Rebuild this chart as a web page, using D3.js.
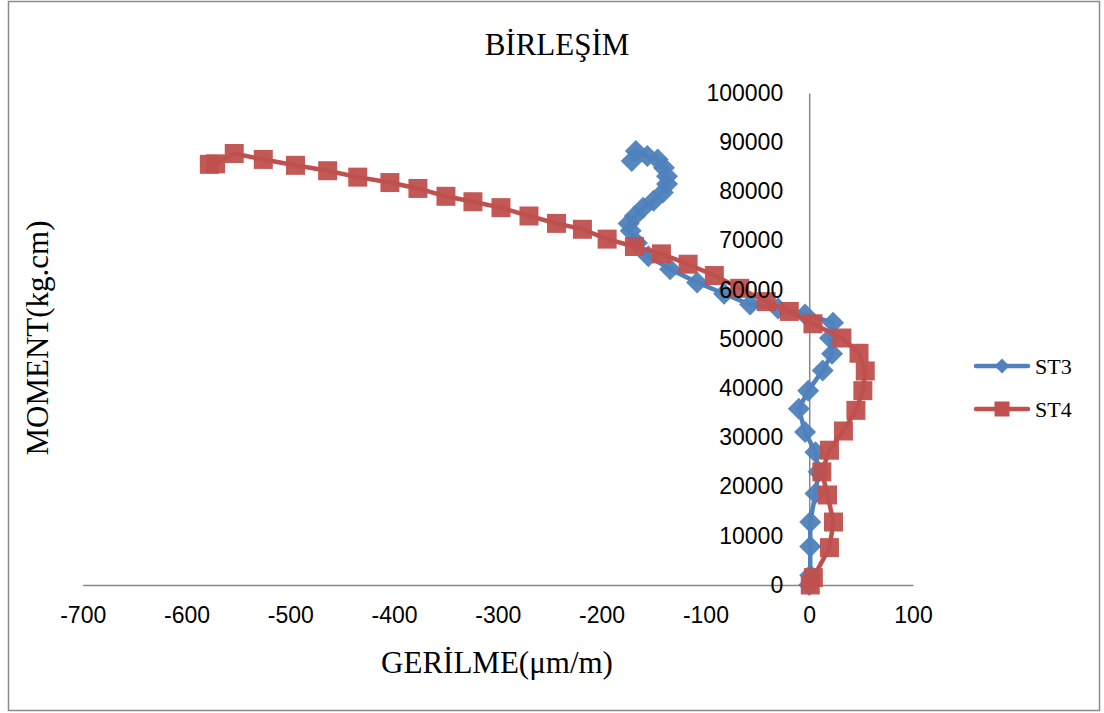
<!DOCTYPE html>
<html>
<head>
<meta charset="utf-8">
<script src="https://cdnjs.cloudflare.com/ajax/libs/d3/7.8.5/d3.min.js"></script>
<style>
  body { margin: 0; background: #fff; }
  svg { display: block; }
</style>
</head>
<body>
<svg id="chart" width="1104" height="713"></svg>
<script>
// values
var st3_x = [0, 1, 1, 1, 6, 9, 6, -4, -10, -1, 13, 22, 20, 23, -4, -30, -57, -82, -108, -134, -155, -166, -172, -174, -168, -160, -150, -141, -137, -137, -140, -146, -156, -167, -171];
var st3_y = [0, 2000, 7800, 12800, 18600, 23000, 27000, 31100, 35800, 39500, 43600, 47000, 50200, 53300, 55000, 56200, 57000, 59200, 61500, 64200, 66800, 69500, 72000, 73500, 75000, 76700, 78100, 79800, 81500, 83100, 84800, 86500, 87200, 88200, 86200];

var st4_x = [1, 4, 19.5, 23.4, 17.6, 12.2, 19.5, 33, 45, 51.7, 54, 48, 31.5, 3.6, -19.2, -41.4, -67, -91.4, -116.7, -142.4, -168.4, -194.7, -218.5, -243.5, -270, -297, -324, -350, -377, -404, -435, -464, -495, -526, -554, -572, -578];
var st4_y = [0, 1500, 7600, 12800, 18300, 23000, 27400, 31300, 35500, 39500, 43500, 47100, 50200, 53100, 55600, 57600, 60300, 62900, 65200, 67300, 68800, 70300, 72300, 73500, 75000, 76700, 77900, 79000, 80600, 81800, 82900, 84200, 85300, 86500, 87700, 85600, 85500];

var x_ticks = [-700, -600, -500, -400, -300, -200, -100, 0, 100];
var y_ticks = [0, 10000, 20000, 30000, 40000, 50000, 60000, 70000, 80000, 90000, 100000];

var title_text = "BİRLEŞİM";
var x_title = "GERİLME(μm/m)";
var y_title = "MOMENT(kg.cm)";

var series = [
    {name: "ST3", color: "#4F81BD", shape: "diamond", xs: st3_x, ys: st3_y},
    {name: "ST4", color: "#C0504D", shape: "square", xs: st4_x, ys: st4_y}
];

var svg = d3.select("#chart");
var serif = "'Liberation Serif', 'Times New Roman', serif";
var sans = "'Liberation Sans', Arial, sans-serif";

// chart border
svg.append("rect")
    .attr("x", 8.5).attr("y", 1.5)
    .attr("width", 1091).attr("height", 709)
    .attr("fill", "#fff")
    .attr("stroke", "#8c8c8c")
    .attr("stroke-width", 1.5);

var x = d3.scaleLinear().domain([-700, 100]).range([82.7, 913]);
var y = d3.scaleLinear().domain([0, 100000]).range([585, 93]);

// plain labels: ascii minus, no thousands separator
var plain = function(d) { return String(d); };

// axes cross at 0 / 0, Excel style: no tick marks, labels off to the low side
var xAxis = d3.axisBottom(x).tickValues(x_ticks).tickFormat(plain).tickSize(0).tickPadding(22);
var yAxis = d3.axisLeft(y).tickValues(y_ticks).tickFormat(plain).tickSize(0).tickPadding(26);

var xShift = "translate(0," + y(0) + ")";
var yShift = "translate(" + x(0) + ",0)";

var gx = svg.append("g").attr("transform", xShift).call(xAxis);
var gy = svg.append("g").attr("transform", yShift).call(yAxis);

gx.select(".domain").attr("stroke", "#868686").attr("stroke-width", 1.5);
gy.select(".domain").attr("stroke", "#868686").attr("stroke-width", 1.5);

var line = d3.line()
    .x(function(d) { return x(d[0]); })
    .y(function(d) { return y(d[1]); });

var symbols = {
    diamond: function(s) {
        return "M0," + (-s) + "L" + s + ",0L0," + s + "L" + (-s) + ",0Z";
    },
    square: function(s) {
        return "M" + (-s) + "," + (-s) + "H" + s + "V" + s + "H" + (-s) + "Z";
    }
};

series.forEach(function(ser) {
    var pts = ser.xs.map(function(v, i) { return [v, ser.ys[i]]; });
    var g = svg.append("g").attr("class", "series " + ser.name);

    g.append("path")
        .datum(pts)
        .attr("d", line)
        .attr("fill", "none")
        .attr("stroke", ser.color)
        .attr("stroke-width", 4.5)
        .attr("stroke-linejoin", "round");

    g.selectAll(".marker")
        .data(pts)
        .enter()
        .append("path")
        .attr("class", "marker")
        .attr("transform", function(d) {
            return "translate(" + x(d[0]) + "," + y(d[1]) + ")";
        })
        .attr("d", symbols[ser.shape](ser.shape === "diamond" ? 11 : 9.5))
        .attr("fill", ser.color)
        .attr("fill-opacity", 0.95);
});

// axis lines stay under the series, tick labels go on top of the markers
var xLabels = svg.append("g").attr("transform", xShift).attr("text-anchor", "middle");
var yLabels = svg.append("g").attr("transform", yShift).attr("text-anchor", "end");
gx.selectAll(".tick").each(function() { xLabels.node().appendChild(this); });
gy.selectAll(".tick").each(function() { yLabels.node().appendChild(this); });

[xLabels, yLabels].forEach(function(g) {
    g.selectAll("text")
        .attr("fill", "#000")
        .style("font-family", sans)
        .style("font-size", "23px");
});

// legend
var legend = svg.append("g").attr("class", "legend");
series.forEach(function(ser, i) {
    var ly = 366 + i * 43;
    legend.append("line")
        .attr("x1", 976).attr("x2", 1028)
        .attr("y1", ly).attr("y2", ly)
        .attr("stroke", ser.color)
        .attr("stroke-width", 4.5)
        .attr("stroke-linecap", "round");
    legend.append("path")
        .attr("transform", "translate(1002," + ly + ")")
        .attr("d", symbols[ser.shape](7.5))
        .attr("fill", ser.color);
    legend.append("text")
        .attr("x", 1035).attr("y", ly + 8)
        .style("font-family", serif)
        .style("font-size", "22px")
        .text(ser.name);
});

// titles
svg.append("text")
    .attr("x", 557).attr("y", 55)
    .attr("text-anchor", "middle")
    .style("font-family", serif)
    .style("font-size", "31px")
    .text(title_text);

svg.append("text")
    .attr("x", 497).attr("y", 673)
    .attr("text-anchor", "middle")
    .style("font-family", serif)
    .style("font-size", "31px")
    .text(x_title);

svg.append("text")
    .attr("transform", "translate(48,338) rotate(-90)")
    .attr("text-anchor", "middle")
    .style("font-family", serif)
    .style("font-size", "31px")
    .text(y_title);
</script>
</body>
</html>
